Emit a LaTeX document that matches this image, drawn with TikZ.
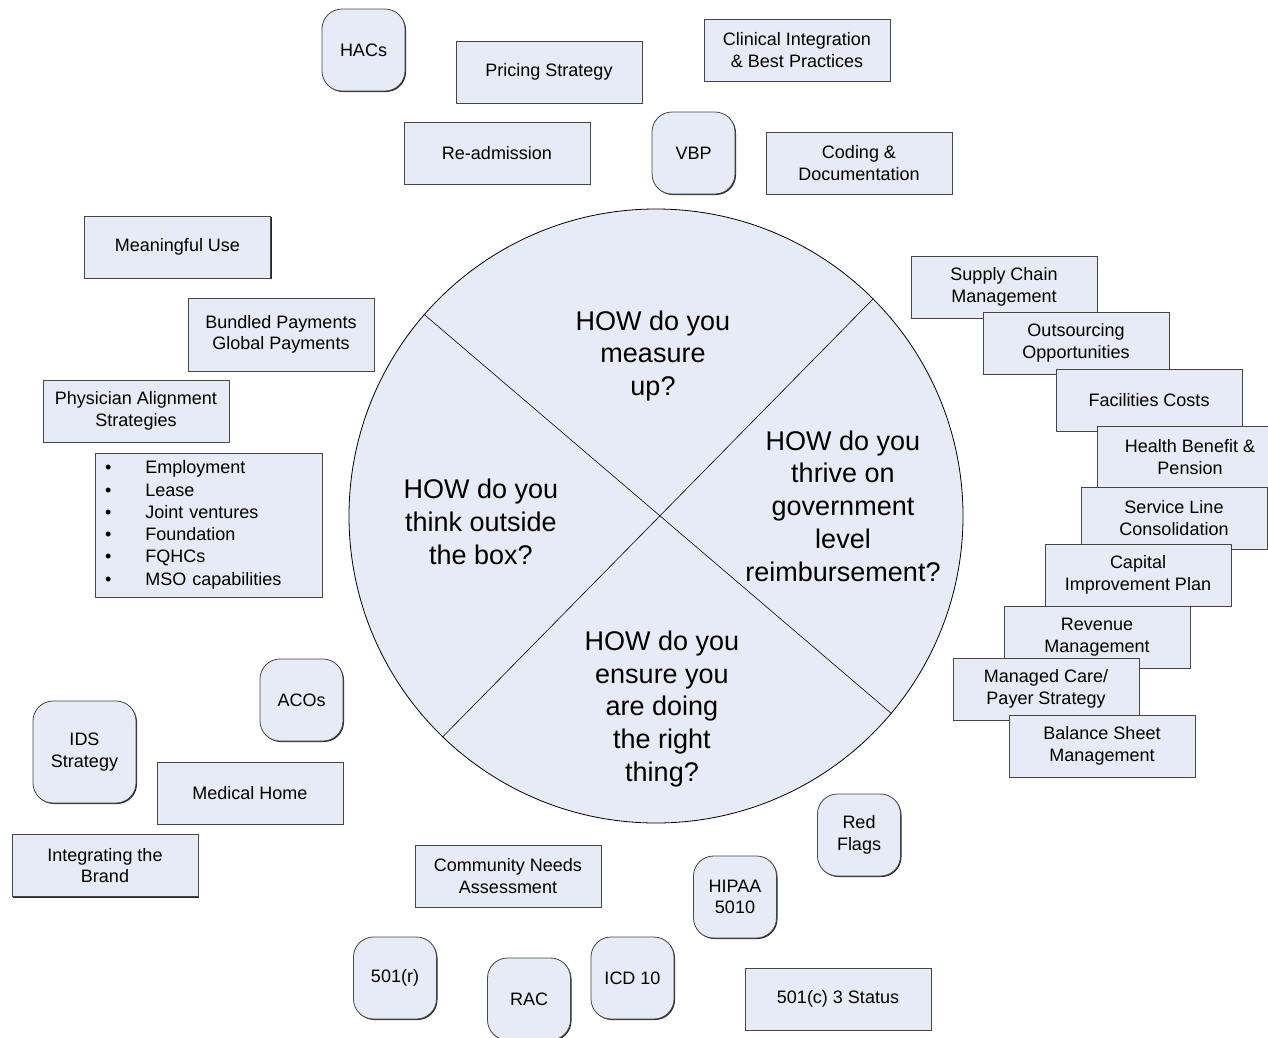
\documentclass[tikz,border=0pt]{standalone}
\usepackage{fontspec}
\setmainfont{Liberation Sans}
\usetikzlibrary{shadows}
\definecolor{boxfill}{RGB}{231,235,245}
\definecolor{boxline}{RGB}{70,70,70}
\newcommand{\boxfont}{\fontsize{18}{21.6}\selectfont}
\newcommand{\wheelfont}{\fontsize{27}{32.7}\selectfont}

\begin{document}
\begin{tikzpicture}[x=1pt,y=-1pt,
		topic/.style={draw=boxline, fill=boxfill, line width=0.8pt, inner sep=0pt, minimum width=186pt, minimum height=62pt, align=center, font=\boxfont, drop shadow={shadow xshift=1pt, shadow yshift=-1pt, shadow scale=1, fill=black!85, opacity=1}},
		tag/.style={topic, rounded corners=20pt, minimum width=83pt, minimum height=82pt},
		question/.style={align=center, font=\wheelfont}]
			\useasboundingbox (0,0) rectangle (1268,1037);
			\node[circle, draw, fill=boxfill, line width=0.8pt, inner sep=0pt, minimum size=614pt] (wheel) at (656,516) {};
			\draw[line width=0.6pt] (wheel.139.5) -- (wheel.-40.5);
			\draw[line width=0.6pt] (wheel.45) -- (wheel.226);
			\node[question] (measure) at (653,356) {HOW do you\\measure\\up?};
			\node[question] (thrive) at (843,506) {HOW do you\\thrive on\\government\\level\\reimbursement?};
			\node[question] (outside) at (481,522) {HOW do you\\think outside\\the box?};
			\node[question] (ensure) at (662,709) {HOW do you\\ensure you\\are doing\\the right\\thing?};
			\node[tag] (hacs) at (363.5,50) {HACs};
			\node[topic] (pricing) at (549,72) {Pricing Strategy};
			\node[topic] (clinical) at (797,50) {Clinical Integration\\\& Best Practices};
			\node[topic] (readmit) at (497,153) {Re-admission};
			\node[tag] (vbp) at (693.5,153) {VBP};
			\node[topic] (coding) at (859,163) {Coding \&\\Documentation};
			\node[topic] (meaningful) at (177.5,247) {Meaningful Use};
			\node[topic, minimum height=73pt] (bundled) at (281,334.5) {Bundled Payments\\Global Payments};
			\node[topic] (physician) at (136,411) {Physician Alignment\\Strategies};
			\node[topic, text width=207pt, align=left, inner xsep=10pt, minimum height=144pt] (plist) at (208.5,525) {\renewcommand{\arraystretch}{1.03}\begin{tabular}{@{}l@{\hspace{34pt}}l@{}}
				\textbullet & Employment\\
				\textbullet & Lease\\
				\textbullet & Joint ventures\\
				\textbullet & Foundation\\
				\textbullet & FQHCs\\
				\textbullet & MSO capabilities
			\end{tabular}};
			\node[tag] (acos) at (301.5,700) {ACOs};
			\node[tag, minimum width=103pt, minimum height=102pt] (ids) at (84.5,752) {IDS\\Strategy};
			\node[topic] (medhome) at (250,793) {Medical Home};
			\node[topic] (brand) at (105,865.5) {Integrating the\\Brand};
			\node[topic] (community) at (508,876) {Community Needs\\Assessment};
			\node[tag] (redflags) at (859,835) {Red\\Flags};
			\node[tag] (hipaa) at (735,897) {HIPAA\\5010};
			\node[tag] (rsec) at (395,978) {501(r)};
			\node[tag] (rac) at (529,999) {RAC};
			\node[tag] (icd) at (632.5,978) {ICD 10};
			\node[topic] (csec) at (838,999) {501(c) 3 Status};
			\node[topic] (supply) at (1004,287) {Supply Chain\\Management};
			\node[topic] (outsource) at (1076,343) {Outsourcing\\Opportunities};
			\node[topic] (facilities) at (1149,400) {Facilities Costs};
			\node[topic] (health) at (1190,457) {Health Benefit \&\\Pension};
			\node[topic] (service) at (1174,518) {Service Line\\Consolidation};
			\node[topic] (capital) at (1138,575) {Capital\\Improvement Plan};
			\node[topic] (revenue) at (1097,637) {Revenue\\Management};
			\node[topic] (managed) at (1046,689) {Managed Care/\\Payer Strategy};
			\node[topic] (balance) at (1102,746) {Balance Sheet\\Management};
		\end{tikzpicture}
\end{document}
